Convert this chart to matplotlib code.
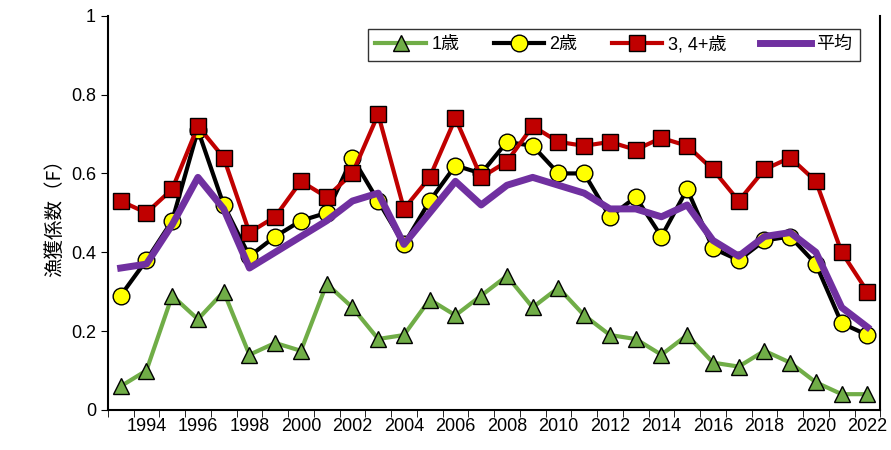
import matplotlib
matplotlib.use("Agg")
import matplotlib.pyplot as plt

plt.rcParams['font.family'] = ['Liberation Sans', 'Noto Sans CJK JP', 'DejaVu Sans']

years = list(range(1993, 2023))
age1 = [.06,.10,.29,.23,.30,.14,.17,.15,.32,.26,.18,.19,.28,.24,.29,.34,.26,.31,.24,.19,.18,.14,.19,.12,.11,.15,.12,.07,.04,.04]
age2 = [.29,.38,.48,.71,.52,.39,.44,.48,.50,.64,.53,.42,.53,.62,.60,.68,.67,.60,.60,.49,.54,.44,.56,.41,.38,.43,.44,.37,.22,.19]
age34 = [.53,.50,.56,.72,.64,.45,.49,.58,.54,.60,.75,.51,.59,.74,.59,.63,.72,.68,.67,.68,.66,.69,.67,.61,.53,.61,.64,.58,.40,.30]
mean = [.36,.37,.47,.59,.51,.36,.40,.44,.48,.53,.55,.42,.50,.58,.52,.57,.59,.57,.55,.51,.51,.49,.52,.43,.39,.44,.45,.40,.26,.21]
xticklabels = [str(y) for y in range(1994, 2023, 2)]

fig = plt.figure(figsize=(8.91, 4.5), dpi=100)
ax = fig.add_axes([0.121, 0.089, 0.867, 0.876])
ax.plot(years, age1, color='#70AD47', lw=3, marker='^', ms=11, mfc='#70AD47', mec='black', mew=1, label='1歳', zorder=3)
ax.plot(years, age2, color='black', lw=3, marker='o', ms=12, mfc='#FFFF00', mec='black', mew=1, label='2歳', zorder=4)
ax.plot(years, age34, color='#C00000', lw=3, marker='s', ms=11, mfc='#C00000', mec='black', mew=1, label='3, 4+歳', zorder=5)
ax.plot(years, mean, color='#7030A0', lw=5, label='平均', zorder=6)

ax.set_xlim(1992.5, 2022.5)
ax.set_ylim(0, 1)
ax.set_yticks([0, 0.2, 0.4, 0.6, 0.8, 1])
ax.set_yticklabels(['0', '0.2', '0.4', '0.6', '0.8', '1'], fontsize=13)
ax.set_xticks(range(1994, 2023, 2))
ax.set_xticklabels(xticklabels, fontsize=13)
ax.set_xticks([y + 0.5 for y in range(1992, 2023)], minor=True)
ax.tick_params(axis='x', which='major', length=0, pad=6)
ax.tick_params(axis='x', which='minor', length=5, direction='out')
ax.tick_params(axis='y', direction='out', length=5)
ax.set_ylabel('漁獲係数（F）', fontsize=14, family=['Noto Sans CJK JP'])
for s in ax.spines.values():
    s.set_linewidth(1.5)
ax.spines['top'].set_visible(False)
leg = ax.legend(loc='upper right', ncol=4, frameon=True, fancybox=False,
                edgecolor='black', handlelength=2.8, handletextpad=0.3, columnspacing=1.9,
                bbox_to_anchor=(0.985, 0.99),
                prop={'family': ['Liberation Sans', 'Noto Sans CJK JP'], 'size': 13})
leg.get_frame().set_linewidth(1)
fig.savefig('out.png', dpi=100)
